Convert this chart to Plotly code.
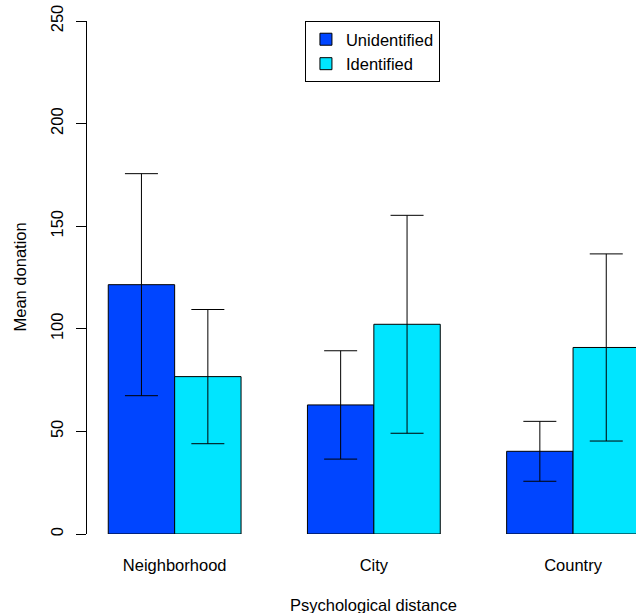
import plotly.graph_objects as go

categories = ["Neighborhood", "City", "Country"]
unidentified = [121.5, 62.9, 40.3]
unidentified_err = [54.1, 26.4, 14.6]
identified = [76.7, 102.2, 90.9]
identified_err = [32.7, 53.1, 45.6]
y_ticks = [0, 50, 100, 150, 200, 250]

FONT = "Liberation Sans, Arial, Helvetica, sans-serif"
FS = 16.5

fig = go.Figure()
fig.add_trace(go.Bar(
    x=categories, y=unidentified, name="Unidentified",
    marker=dict(color="#0045FF", line=dict(color="black", width=1)),
    error_y=dict(type="data", array=unidentified_err, symmetric=True,
                 color="black", thickness=1, width=16.5),
))
fig.add_trace(go.Bar(
    x=categories, y=identified, name="Identified",
    marker=dict(color="#00E5FF", line=dict(color="black", width=1)),
    error_y=dict(type="data", array=identified_err, symmetric=True,
                 color="black", thickness=1, width=16.5),
))

fig.update_layout(
    width=636, height=613,
    margin=dict(l=87, r=0, t=21, b=79),
    paper_bgcolor="white", plot_bgcolor="white",
    barmode="group", bargap=1/3, bargroupgap=0,
    font=dict(family=FONT, size=FS, color="black"),
    showlegend=True,
    legend=dict(x=0.397, y=1, xanchor="left", yanchor="top",
                bordercolor="black", borderwidth=1, bgcolor="white",
                font=dict(size=FS)),
    xaxis=dict(range=[-0.44, 2.316], showline=False, showgrid=False,
               zeroline=False, ticks="", ticklabelstandoff=19,
               tickfont=dict(size=FS)),
    yaxis=dict(range=[0, 250], tickvals=y_ticks, showline=True,
               linecolor="black", linewidth=1, ticks="outside", ticklen=10,
               tickcolor="black", tickwidth=1, showgrid=False, zeroline=False,
               tickangle=-90, ticklabelstandoff=6, ticklabeloverflow="allow",
               tickfont=dict(size=FS)),
    annotations=[
        dict(text="Psychological distance", xref="x", yref="paper",
             x=1, y=(534.3 - 605) / 513.3, xanchor="center", yanchor="middle",
             showarrow=False, font=dict(size=FS)),
        dict(text="Mean donation", xref="paper", yref="paper",
             x=(19 - 87) / 549, y=0.5, xanchor="center", yanchor="middle",
             textangle=-90, showarrow=False, font=dict(size=FS)),
    ],
)

fig.write_html(
    "out.html",
    config={"displayModeBar": False},
    post_script="document.body.style.margin='0';document.body.style.overflow='hidden';",
)
